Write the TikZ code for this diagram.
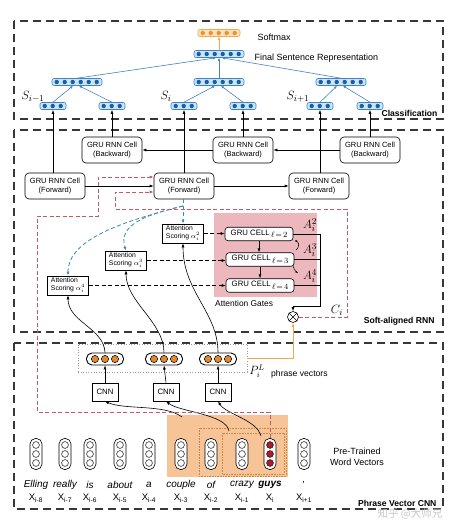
\documentclass[tikz,border=0pt]{standalone}
\usepackage{fontspec}
\setmainfont{Liberation Sans}
\newfontfamily\cjkfont{Noto Sans CJK SC}
\usetikzlibrary{calc,arrows.meta}
\definecolor{bluefill}{RGB}{205,228,246}
\definecolor{blueline}{RGB}{60,135,195}
\definecolor{bluedot}{RGB}{25,95,165}
\definecolor{orline}{RGB}{240,170,70}
\definecolor{orfill}{RGB}{252,226,190}
\definecolor{ordot}{RGB}{238,145,45}
\definecolor{pinkd}{RGB}{200,85,105}
\definecolor{teal2}{RGB}{55,140,180}
\definecolor{gatefill}{RGB}{236,184,190}
\definecolor{phrasefill}{RGB}{246,196,150}
\definecolor{phrasedot}{RGB}{200,135,75}
\definecolor{phdot}{RGB}{225,135,45}
\definecolor{guysred}{RGB}{170,30,45}
\definecolor{boxgray}{RGB}{55,55,55}
\tikzset{
  dbox/.style={draw=boxgray, line width=1.1pt, dash pattern=on 8pt off 5pt},
  vecbox/.style={rounded corners=2pt, minimum height=7pt, inner sep=0pt, line width=0.6pt},
  cell/.style={draw, rounded corners=4pt, line width=0.6pt, minimum width=60pt, minimum height=26pt, align=center, font=\fontsize{7.5}{8.6}\selectfont, inner sep=1pt},
  att/.style={draw, line width=0.6pt, fill=white, align=left, font=\fontsize{6.8}{8}\selectfont, inner sep=1.5pt, minimum height=19pt, minimum width=41pt},
  gcell/.style={draw, rounded corners=3pt, fill=white, line width=0.6pt, minimum width=68pt, minimum height=13.5pt, font=\fontsize{7.8}{9}\selectfont, inner sep=1pt},
  cnnbox/.style={draw, line width=0.6pt, minimum width=26pt, minimum height=18pt, font=\fontsize{7.8}{9}\selectfont, inner sep=1pt},
  tip/.style={-{Latex[length=4pt,width=3pt]}},
  arr/.style={tip, line width=0.6pt},
  barr/.style={draw=blueline, -{Latex[length=3pt,width=2.6pt]}, line width=0.6pt},
  reddash/.style={draw=pinkd, dash pattern=on 4pt off 2.5pt, line width=0.8pt},
  tealdash/.style={draw=teal2, dash pattern=on 4pt off 2.5pt, line width=0.8pt},
  blkdash/.style={dash pattern=on 4pt off 2.5pt, line width=0.6pt},
  lbl/.style={font=\fontsize{9}{10.5}\selectfont},
  boxlbl/.style={font=\bfseries\fontsize{8.6}{10}\selectfont, anchor=east},
  mathlbl/.style={font=\fontsize{13}{14}\selectfont, inner sep=0.5pt},
  word/.style={font=\itshape\fontsize{10}{12}\selectfont},
  xlbl/.style={font=\fontsize{9.5}{11}\selectfont},
}
\newcommand\bvec[4]{%
  \node[vecbox, draw=blueline, fill=bluefill, minimum width=#4*8pt+2pt] (#1) at (#2,#3) {};
  \foreach \k in {1,...,#4}{\fill[bluedot] ($(#1.west)+(\k*8-3,0)$) circle (2.2pt);}
}
\newcommand\ovec[4]{%
  \node[vecbox, draw=orline, fill=orfill, minimum width=#4*8pt+2pt] (#1) at (#2,#3) {};
  \foreach \k in {1,...,#4}{\fill[ordot] ($(#1.west)+(\k*8-3,0)$) circle (2.2pt);}
}
\newcommand\wvec[3]{%
  \node[draw, fill=white, rounded corners=5.5pt, minimum width=12pt, minimum height=31pt, inner sep=0pt, line width=0.6pt] (#1) at (#2,454) {};
  \foreach \k in {-9,0,9}{\filldraw[fill=#3, draw=black, line width=0.5pt] ($(#1.center)+(0,\k)$) circle (3.4pt);}
}
\newcommand\pvec[3]{%
  \node[draw, fill=white, rounded corners=5.5pt, minimum width=37pt, minimum height=12pt, line width=0.9pt, inner sep=0pt] (#1) at (#2,#3) {};
  \foreach \k in {-10,0,10}{\filldraw[fill=phdot, draw=black, line width=0.5pt] ($(#1.center)+(\k,0)$) circle (3.6pt);}
}
\newcommand\ellsub[1]{\,\raisebox{-2.5pt}{$\ell\!=\!#1$}}
\begin{document}
\begin{tikzpicture}[x=1pt,y=-1pt]
\useasboundingbox (0,0) rectangle (464,532);
\fill[white] (0,0) rectangle (464,532);

% ---------------- Classification ----------------
\draw[dbox] (14,21) rectangle (443,119);
\node[boxlbl] (lcls) at (441,113) {Classification};

\ovec{sm}{219}{33}{5}
\node[lbl, anchor=west] (tsm) at (254,37) {Softmax};
\bvec{fin}{219}{54}{6}
\node[lbl, anchor=west] (tfin) at (251,58) {Final Sentence Representation};

\bvec{cl}{77}{82}{6}
\bvec{cm}{219}{82}{6}
\bvec{cr}{341}{82}{6}

\bvec{la}{53}{106}{3}
\bvec{lb}{112}{106}{3}
\bvec{ma}{184}{106}{3}
\bvec{mb}{243}{106}{3}
\bvec{ra}{320}{106}{3}
\bvec{rb}{370}{106}{3}

\node[mathlbl] (s1) at (33,97) {$S_{i-1}$};
\node[mathlbl] (s2) at (166,96) {$S_{i}$};
\node[mathlbl] (s3) at (298,97) {$S_{i+1}$};

\draw[draw=orline, -{Latex[length=3pt,width=2.6pt]}, line width=0.7pt] (fin.north) -- (sm.south);
\draw[barr] (cl.north) -- ($(fin.south)+(-3,0)$);
\draw[barr] (cm.north) -- (fin.south);
\draw[barr] (cr.north) -- ($(fin.south)+(3,0)$);
\draw[barr] (la.north) -- ($(cl.south)+(-4,0)$);
\draw[barr] (lb.north) -- ($(cl.south)+(2,0)$);
\draw[barr] (ma.north) -- ($(cm.south)+(-4,0)$);
\draw[barr] (mb.north) -- ($(cm.south)+(2,0)$);
\draw[barr] (ra.north) -- ($(cr.south)+(-4,0)$);
\draw[barr] (rb.north) -- ($(cr.south)+(2,0)$);

% ---------------- Soft-aligned RNN ----------------
\draw[dbox] (14,130) rectangle (443,332);
\node[boxlbl] (lsoft) at (438,321) {Soft-aligned RNN};

\node[cell] (b1) at (112,150) {GRU RNN Cell\\(Backward)};
\node[cell] (b2) at (243,150) {GRU RNN Cell\\(Backward)};
\node[cell] (b3) at (370,150) {GRU RNN Cell\\(Backward)};
\node[cell] (f1) at (55,186) {GRU RNN Cell\\(Forward)};
\node[cell] (f2) at (184,186) {GRU RNN Cell\\(Forward)};
\node[cell] (f3) at (319,186) {GRU RNN Cell\\(Forward)};

\draw[arr] (f1.north -| la) -- (la.south);
\draw[arr] (b1.north -| lb) -- (lb.south);
\draw[arr] (f2.north -| ma) -- (ma.south);
\draw[arr] (b2.north -| mb) -- (mb.south);
\draw[arr] (f3.north -| ra) -- (ra.south);
\draw[arr] (b3.north -| rb) -- (rb.south);

\draw[arr] (b3.west) -- (b2.east);
\draw[arr] (b2.west) -- (b1.east);
\draw[arr] (f1.east) -- (f2.west);
\draw[arr] (f2.east) -- (f3.west);

% attention gates
\fill[gatefill] (214,213) rectangle (317,297);
\node[font=\fontsize{8.4}{10}\selectfont, anchor=west, inner sep=1pt] (tgates) at (214,303) {Attention Gates};

\node[gcell] (g1) at (259,234) {GRU CELL\ellsub{2}};
\node[gcell] (g2) at (260,259.5) {GRU CELL\ellsub{3}};
\node[gcell] (g3) at (260,285.5) {GRU CELL\ellsub{4}};
\draw[arr] (g1.south) -- (g2.north -| g1.south);
\draw[arr] (g2.south) -- (g3.north -| g2.south);

\node[mathlbl] (A2) at (310,225) {$A_i^2$};
\node[mathlbl] (A3) at (310,250) {$A_i^3$};
\node[mathlbl] (A4) at (310,276) {$A_i^4$};

\draw[-{Latex[length=2.5pt,width=2.2pt]}, line width=0.5pt] (296,250) .. controls (300,247) and (299,242) .. (294.5,240.5);
\draw[-{Latex[length=2.5pt,width=2.2pt]}, line width=0.5pt] (293,266) .. controls (294,269) and (295,271) .. (298,273);

\node[circle, draw, fill=white, minimum size=11pt, inner sep=0pt, line width=0.6pt] (ot) at (293,317) {};
\draw[line width=0.6pt] (ot.north west) -- (ot.south east) (ot.north east) -- (ot.south west);
\node[mathlbl] (ci) at (337,310) {$C_i$};

\coordinate (busT) at (320,234);
\coordinate (busB) at (320,306);
\draw[line width=0.6pt] (g1.east) -- (g1.east -| busT);
\draw[line width=0.6pt] (g2.east) -- (g2.east -| busT);
\draw[line width=0.6pt] (g3.east) -- (g3.east -| busT);
\draw[arr] (g1.east -| busT) -- (busB) -| (ot.north);

% attention scoring boxes
\node[att] (a2) at (183,233.5) {Attention\\Scoring $\alpha_i^2$};
\node[att] (a3) at (126,260.5) {Attention\\Scoring $\alpha_i^3$};
\node[att] (a4) at (68,285.5) {Attention\\Scoring $\alpha_i^4$};
\draw[blkdash, tip] (a2.east) -- (g1.west |- a2.east);
\draw[blkdash, tip] (a3.east) -- (g2.west |- a3.east);
\draw[blkdash, tip] (a4.east) -- (g3.west |- a4.east);

% teal attention curves
\coordinate (ts) at (183,206);
\draw[tealdash, -{Latex[length=4pt,width=3pt]}] (f2.south -| a2.north) -- (a2.north);
\draw[tealdash, -{Latex[length=4pt,width=3pt]}] (ts) .. controls (145,215) and (118,225) .. (a3.north);
\draw[tealdash, -{Latex[length=4pt,width=3pt]}] (ts) .. controls (120,222) and (68,240) .. (a4.north);

% red dashed feedback path from C_i
\draw[reddash, -{Latex[length=4pt,width=3pt]}] (ot.east) -- (347,317) -- (347,209) -- (115,209) -- (115,192) -- (f2.west |- 115,192);

% ---------------- Phrase Vector CNN ----------------
\draw[dbox] (14,343) rectangle (443,509);
\node[boxlbl] (lphr) at (440,503) {Phrase Vector CNN};

\node[draw=gray!80, dotted, line width=0.6pt, minimum width=169pt, minimum height=28pt, inner sep=0pt] (pbox) at (162.5,358) {};
\pvec{pc1}{105}{359}
\pvec{pc2}{164}{359}
\pvec{pc3}{218}{359}
\node[font=\fontsize{12}{13}\selectfont, inner sep=0.5pt] (pl) at (257,371) {$P_i^L$};
\node[font=\fontsize{8.6}{10}\selectfont, anchor=west, inner sep=1pt] (tpv) at (270,374) {phrase vectors};

\node[cnnbox] (cnn1) at (105,392) {CNN};
\node[cnnbox] (cnn2) at (166,392) {CNN};
\node[cnnbox] (cnn3) at (218,392) {CNN};
\draw[arr] (cnn1.north) -- (pc1.south);
\draw[arr] (cnn2.north) -- (pc2.south);
\draw[arr] (cnn3.north) -- (pc3.south);

\draw[arr] (pc1.north) .. controls (104,328) and (68,322) .. (a4.south);
\draw[arr] (pc2.north) .. controls (164,322) and (126,302) .. (a3.south);
\draw[arr] (pc3.north) .. controls (218,312) and (183,292) .. (a2.south);

\draw[draw=orline, line width=0.8pt, -{Latex[length=4pt,width=3pt]}] (pbox.east) -| (ot.south);

% phrase region
\fill[phrasefill] (167,415) rectangle (288,477);
\draw[draw=phrasedot, densely dotted, line width=0.6pt] (199,428) rectangle (286,476);
\draw[draw=phrasedot, densely dotted, line width=0.6pt] (222,433) rectangle (284,474);

\coordinate (st1) at (182,417);
\coordinate (st2) at (229,431);
\coordinate (st3) at (261,436);
\draw[arr] (st1) .. controls (165,404) and (125,410) .. (cnn1.south);
\draw[arr] (st2) .. controls (226,414) and (180,412) .. (cnn2.south);
\draw[arr] (st3) .. controls (257,420) and (226,414) .. (cnn3.south);

\wvec{x1}{36}{white}
\wvec{x2}{65}{white}
\wvec{x3}{90}{white}
\wvec{x4}{120}{white}
\wvec{x5}{149}{white}
\wvec{x6}{181}{white}
\wvec{x7}{211}{white}
\wvec{x8}{242}{white}
\wvec{x9}{270}{guysred}
\wvec{x10}{304}{white}

\draw[reddash, -{Latex[length=4pt,width=3pt]}] (x9.north) |- (37,412) -- (37,216) -- (98,216) -- (98,177) -- (f2.west |- 98,177);

\node[word] (w1) at (36,485) {Elling};
\node[word] (w2) at (65,485) {really};
\node[word] (w3) at (90,485) {is};
\node[word] (w4) at (120,485) {about};
\node[word] (w5) at (149,485) {a};
\node[word] (w6) at (181,485) {couple};
\node[word] (w7) at (211,485) {of};
\node[word] (w8) at (242,485) {crazy};
\node[word, font=\bfseries\itshape\fontsize{10}{12}\selectfont] (w9) at (270,485) {guys};
\node[word] (w10) at (304,483) {,};

\node[xlbl] (y1) at (36,498) {X\textsubscript{i-8}};
\node[xlbl] (y2) at (65,498) {X\textsubscript{i-7}};
\node[xlbl] (y3) at (90,498) {X\textsubscript{i-6}};
\node[xlbl] (y4) at (120,498) {X\textsubscript{i-5}};
\node[xlbl] (y5) at (149,498) {X\textsubscript{i-4}};
\node[xlbl] (y6) at (181,498) {X\textsubscript{i-3}};
\node[xlbl] (y7) at (211,498) {X\textsubscript{i-2}};
\node[xlbl] (y8) at (242,498) {X\textsubscript{i-1}};
\node[xlbl] (y9) at (270,498) {X\textsubscript{i}};
\node[xlbl] (y10) at (304,498) {X\textsubscript{i+1}};

\node[lbl, align=center] (tpre) at (357,457) {Pre-Trained\\Word Vectors};

\node[text=black!22, font=\cjkfont\fontsize{10.5}{12}\selectfont] (wm) at (410,514) {知乎 @大师兄};
\end{tikzpicture}
\end{document}
